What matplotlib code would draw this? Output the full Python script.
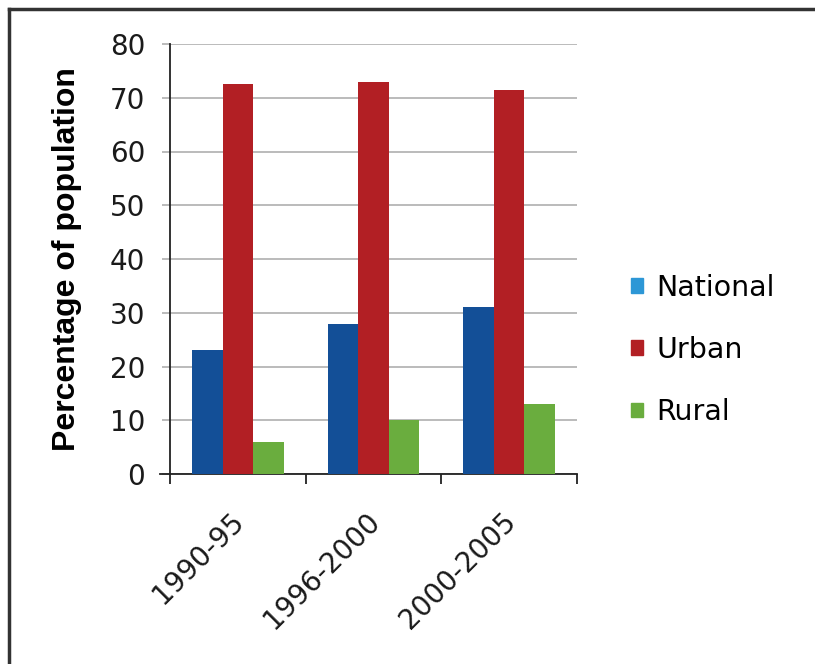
import matplotlib
matplotlib.use("Agg")
import matplotlib.pyplot as plt
import matplotlib.patches as mpatches
import matplotlib.lines as mlines
import matplotlib.transforms as mtransforms
import numpy as np

# share of population per period
periods = ["1990-95", "1996-2000", "2000-2005"]
national = [23, 28, 31]
urban = [72.5, 73, 71.4]
rural = [6, 10, 13]

series_names = ["National", "Urban", "Rural"]
bar_colors = ["#134f97", "#b21f24", "#6aad3e"]
legend_colors = ["#2d97d6", "#b21f24", "#6aad3e"]

plt.rcParams["font.family"] = ["DejaVu Sans"]

fig = plt.figure(figsize=(8.15, 6.64), dpi=100)
ax = fig.add_axes([170 / 815, 1 - 474 / 664, 407 / 815, 430 / 664])

x = np.arange(len(periods))
w = 0.225
for i, vals in enumerate([national, urban, rural]):
    ax.bar(x + (i - 1) * w, vals, w, color=bar_colors[i], zorder=3)

ax.set_xlim(-0.5, 2.5)
ax.set_ylim(0, 80)
ax.set_yticks(np.arange(0, 81, 10))
ax.yaxis.grid(True, color="#b5b5b5", linewidth=1.3, zorder=0)

for s in ["top", "right"]:
    ax.spines[s].set_visible(False)
ax.spines["left"].set_color("#222222")
ax.spines["left"].set_linewidth(1.3)
ax.spines["bottom"].set_color("#222222")
ax.spines["bottom"].set_linewidth(1.3)

ax.tick_params(axis="y", direction="out", length=6, width=1.3, color="#b5b5b5",
               pad=12, labelsize=20, labelcolor="#1a1a1a")

# boundaries between groups get the tick marks, labels sit at group centres
ax.set_xticks([-0.5, 0.5, 1.5, 2.5])
ax.set_xticklabels([])
ax.set_xticks(x, minor=True)
ax.set_xticklabels(periods, minor=True, rotation=45, ha="right",
                   rotation_mode="anchor", fontsize=20, color="#1a1a1a")
ax.tick_params(axis="x", which="major", direction="out", length=7, width=1.3,
               color="#222222")
ax.tick_params(axis="x", which="minor", length=0, pad=24)
shift = mtransforms.ScaledTranslation(-8 / 100, 0, fig.dpi_scale_trans)
for lab in ax.get_xticklabels(minor=True):
    lab.set_transform(lab.get_transform() + shift)

# x axis line runs a bit past the y axis
ax.add_line(mlines.Line2D([-0.025, 0], [0, 0], transform=ax.transAxes,
                          color="#222222", linewidth=1.3, clip_on=False))

ax.set_ylabel("Percentage of population", fontsize=23, fontweight="bold",
              family="Liberation Sans", labelpad=20)

handles = [mpatches.Patch(color=c, label=n) for c, n in zip(legend_colors, series_names)]
fig.legend(handles=handles, loc="center left", bbox_to_anchor=(631 / 815, 1 - 350 / 664),
           frameon=False, fontsize=20.5, borderpad=0, borderaxespad=0,
           handlelength=0.43, handleheight=0.43, handletextpad=0.45, labelspacing=1.2)

# frame edges
fig.add_artist(mlines.Line2D([9 / 815, 9 / 815], [0, 1 - 9 / 664], transform=fig.transFigure,
                             color="#333333", linewidth=2.5))
fig.add_artist(mlines.Line2D([9 / 815, 1], [1 - 9 / 664, 1 - 9 / 664], transform=fig.transFigure,
                             color="#333333", linewidth=2.5))

fig.savefig("out.png", dpi=100)
